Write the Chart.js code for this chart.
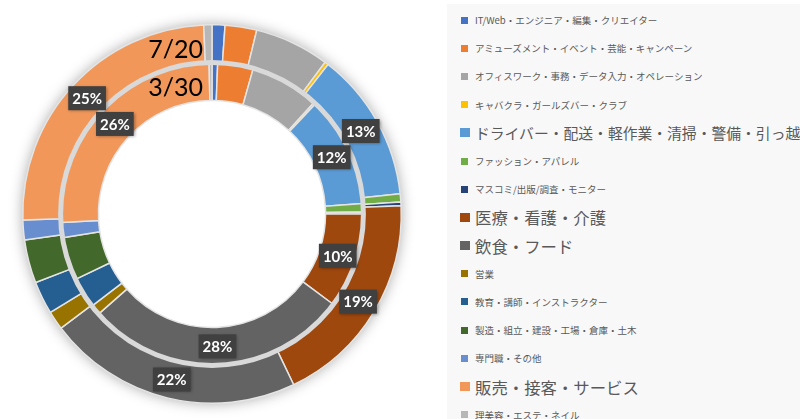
<!DOCTYPE html>
<html lang="ja">
<head>
<meta charset="utf-8">
<title>職種別 構成比 7/20・3/30</title>
<script src="https://cdn.jsdelivr.net/npm/chart.js@4/dist/chart.umd.min.js"></script>
<style>
    html, body { margin: 0; padding: 0; background: #fff; overflow: hidden; }
    #wrap { position: relative; width: 800px; height: 419px; }
    #chart { position: absolute; left: 0; top: 0; }
    #legend {
        position: absolute; left: 447px; top: 4px; width: 353px; height: 415px;
        background: #f8f8f8; overflow: hidden;
        font-family: "Noto Sans CJK JP", "Noto Sans", sans-serif; color: #595959;
    }
    #legend ul { list-style: none; margin: 0; padding: 2px 0 0 0; }
    #legend li {
        height: 28.2px; display: flex; align-items: center;
        white-space: nowrap; padding-left: 13px;
    }
    #legend .box { display: inline-block; margin-right: 8px; flex: none; }
    #legend li.small { font-size: 9.5px; }
    #legend li.small .box { width: 7px; height: 7px; margin-left: 1px; margin-right: 7px; }
    #legend li.big { font-size: 16.4px; }
    #legend li.big .box { width: 10px; height: 9px; margin-right: 5px; }
    /* the long driver entry is set a bit smaller in the original */
    #legend li.big:nth-child(5) { font-size: 14.8px; }
</style>
</head>
<body>
<div id="wrap">
    <canvas id="chart" width="800" height="419"></canvas>
    <div id="legend"><ul id="legendList"></ul></div>
</div>

<script>
/* =====================================================
   DATA
===================================================== */

const categories = [
    "IT/Web・エンジニア・編集・クリエイター",
    "アミューズメント・イベント・芸能・キャンペーン",
    "オフィスワーク・事務・データ入力・オペレーション",
    "キャバクラ・ガールズバー・クラブ",
    "ドライバー・配送・軽作業・清掃・警備・引っ越し",
    "ファッション・アパレル",
    "マスコミ/出版/調査・モニター",
    "医療・看護・介護",
    "飲食・フード",
    "営業",
    "教育・講師・インストラクター",
    "製造・組立・建設・工場・倉庫・土木",
    "専門職・その他",
    "販売・接客・サービス",
    "理美容・エステ・ネイル"
];

// outer ring
const outerLabel = "7/20";
const outerValues = [1.1, 2.7, 6.4, 0.3, 12.8, 0.7, 0.3, 18.6, 21.8, 1.6, 2.8, 3.7, 1.7, 24.8, 0.7];

// inner ring
const innerLabel = "3/30";
const innerValues = [0.6, 3.8, 7.4, 0.2, 11.9, 0.9, 0.2, 10.2, 28.3, 1.1, 3.3, 4.6, 1.6, 25.6, 0.3];

const colors = [
    "#4472C4", "#ED7D31", "#A5A5A5", "#FFC000", "#5B9BD5",
    "#70AD47", "#264478", "#9E480E", "#636363", "#997300",
    "#255E91", "#43682B", "#698ED0", "#F1975A", "#B7B7B7"
];

// data labels are only shown from this share up
const LABEL_MIN = 10;

const GAP_COLOR = "#d9d9d9";


/* =====================================================
   HELPERS
===================================================== */

const sum = arr => arr.reduce((a, b) => a + b, 0);

function pct(values, i) {
    return Math.round(values[i] / sum(values) * 100);
}


/* =====================================================
   PLUGINS
===================================================== */

// soft shadow around the outer ring
const ringShadow = {
    id: "ringShadow",
    beforeDatasetsDraw(chart) {
        const arc = chart.getDatasetMeta(0).data[0];
        if (!arc) return;
        const {x, y, outerRadius} = arc.getProps(["x", "y", "outerRadius"]);
        const ctx = chart.ctx;
        ctx.save();
        // only paint outside the ring
        ctx.beginPath();
        ctx.rect(0, 0, chart.width, chart.height);
        ctx.arc(x, y, outerRadius, 0, Math.PI * 2, true);
        ctx.clip("evenodd");
        ctx.beginPath();
        ctx.arc(x, y, outerRadius, 0, Math.PI * 2);
        ctx.shadowColor = "rgba(0,0,0,0.35)";
        ctx.shadowBlur = 14;
        ctx.fillStyle = GAP_COLOR;
        ctx.fill();
        ctx.restore();
    }
};

// gap between the two rings + value boxes + series names
const ringLabels = {
    id: "ringLabels",
    afterDatasetsDraw(chart) {
        const ctx = chart.ctx;
        const outer = chart.getDatasetMeta(0).data[0]
            .getProps(["x", "y", "innerRadius", "outerRadius"]);

        // gap ring
        ctx.save();
        ctx.beginPath();
        ctx.arc(outer.x, outer.y, outer.innerRadius, 0, Math.PI * 2);
        ctx.lineWidth = 5;
        ctx.strokeStyle = GAP_COLOR;
        ctx.stroke();
        ctx.restore();

        chart.data.datasets.forEach((ds, di) => {
            const meta = chart.getDatasetMeta(di);

            // series name at the top of the ring
            const a = meta.data[0].getProps(["x", "y", "innerRadius", "outerRadius"]);
            const r = (a.innerRadius + a.outerRadius) / 2;
            ctx.save();
            ctx.font = "25px Lato, 'Liberation Sans', sans-serif";
            ctx.fillStyle = "#000";
            ctx.textAlign = "right";
            ctx.textBaseline = "middle";
            ctx.fillText(ds.label, a.x - 9, a.y - r + 6);
            ctx.restore();

            // percentage boxes
            meta.data.forEach((arc, i) => {
                const p = pct(ds.data, i);
                if (p < LABEL_MIN) return;
                const pos = arc.tooltipPosition();
                const text = p + "%";
                ctx.save();
                ctx.font = "bold 15px Lato, 'Liberation Sans', sans-serif";
                const w = ctx.measureText(text).width + 8;
                const h = 24;
                ctx.shadowColor = "rgba(0,0,0,0.35)";
                ctx.shadowBlur = 3;
                ctx.shadowOffsetX = 1;
                ctx.shadowOffsetY = 1;
                ctx.fillStyle = "#404040";
                ctx.fillRect(pos.x - w / 2, pos.y - h / 2, w, h);
                ctx.shadowColor = "transparent";
                ctx.fillStyle = "#fff";
                ctx.textAlign = "center";
                ctx.textBaseline = "middle";
                ctx.fillText(text, pos.x, pos.y + 1);
                ctx.restore();
            });
        });
    }
};


/* =====================================================
   CHART
===================================================== */

const chart = new Chart(document.getElementById("chart"), {
    type: "doughnut",
    data: {
        labels: categories,
        datasets: [
            {
                label: outerLabel,
                data: outerValues,
                backgroundColor: colors,
                borderColor: "#e4e4e4",
                borderWidth: 1.5
            },
            {
                label: innerLabel,
                data: innerValues,
                backgroundColor: colors,
                borderColor: "#e4e4e4",
                borderWidth: 1.5
            }
        ]
    },
    options: {
        responsive: false,
        animation: false,
        cutout: "60%",
        layout: { padding: { left: 22, right: 398, top: 24, bottom: 15 } },
        plugins: {
            legend: { display: false },
            tooltip: { enabled: false }
        }
    },
    plugins: [ringShadow, ringLabels]
});


/* =====================================================
   LEGEND (big text for categories that reach 10%)
===================================================== */

const legendList = document.getElementById("legendList");

categories.forEach((name, i) => {
    const big = pct(outerValues, i) >= LABEL_MIN || pct(innerValues, i) >= LABEL_MIN;
    const li = document.createElement("li");
    li.className = big ? "big" : "small";
    const box = document.createElement("span");
    box.className = "box";
    box.style.background = colors[i];
    li.appendChild(box);
    li.appendChild(document.createTextNode(name));
    legendList.appendChild(li);
});
</script>
</body>
</html>
